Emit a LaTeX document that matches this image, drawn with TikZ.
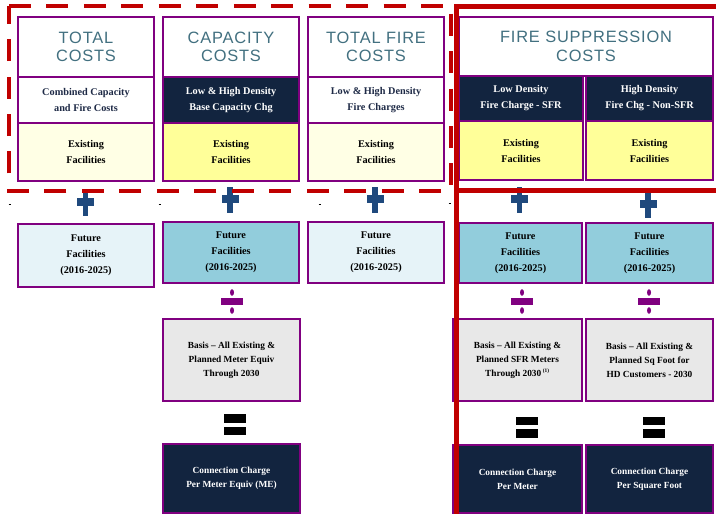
\documentclass[tikz,border=0pt]{standalone}
\usepackage{fontspec}
\setmainfont{Liberation Serif}
\newfontfamily\ttlfont[LetterSpace=5]{Liberation Sans}
\definecolor{bxpurple}{RGB}{128,0,128}
\definecolor{redline}{RGB}{192,0,0}
\definecolor{navy}{RGB}{18,36,63}
\definecolor{ttlcol}{RGB}{66,112,128}
\definecolor{midtext}{RGB}{30,42,70}
\definecolor{paleyellow}{RGB}{255,255,229}
\definecolor{yellowfill}{RGB}{255,255,153}
\definecolor{lightblue}{RGB}{230,243,248}
\definecolor{midblue}{RGB}{146,205,220}
\definecolor{grayfill}{RGB}{232,232,232}
\definecolor{plusblue}{RGB}{31,73,125}
\definecolor{divpurple}{RGB}{128,0,128}
\tikzset{
  sz/.style 2 args={minimum width=#1*0.75pt, minimum height=#2*0.75pt},
  box/.style={draw=bxpurple, line width=1.5pt, inner sep=0pt, align=center,
    font=\bfseries\fontsize{7.7}{12}\selectfont},
  ttl/.style={box, fill=white, text=ttlcol, font=\ttlfont\fontsize{12.3}{13.8}\selectfont},
  whitemid/.style={box, fill=white, text=midtext},
  darkmid/.style={box, fill=navy, text=white},
  paleexist/.style={box, fill=paleyellow, text=black},
  yellexist/.style={box, fill=yellowfill, text=black},
  futlight/.style={box, fill=lightblue, text=black},
  futmid/.style={box, fill=midblue, text=black},
  basisbox/.style={box, fill=grayfill, text=black, font=\bfseries\fontsize{7}{10.5}\selectfont},
  connbox/.style={box, fill=navy, text=white, font=\bfseries\fontsize{7}{10.5}\selectfont},
  redsolid/.style={draw=redline, line width=3.5pt},
  reddash/.style={draw=redline, line width=3pt, dash pattern=on 16.5pt off 11.6pt},
  plussign/.pic={
    \fill[plusblue] (-2.8,-13) rectangle (2.8,13);
    \fill[plusblue] (-8.5,-5) rectangle (8.5,3);
  },
  divsign/.pic={
    \fill[divpurple] (0,-9) ellipse [x radius=2, y radius=3.3];
    \fill[divpurple] (-11,-3.5) rectangle (11,3.5);
    \fill[divpurple] (0,9) ellipse [x radius=2, y radius=3.3];
  },
  eqsign/.pic={
    \fill[black] (-11,-10.5) rectangle (11,-2);
    \fill[black] (-11,2) rectangle (11,10.5);
  }
}
\begin{document}
\begin{tikzpicture}[x=0.75pt,y=-0.75pt]
\useasboundingbox (0,0) rectangle (716,514);

% Column 1
\node[ttl, sz={136}{60}] (t1) at (86,47) {TOTAL\\COSTS};
\node[whitemid, sz={136}{46}] (m1) at (86,100) {Combined Capacity\\and Fire Costs};
\node[paleexist, sz={136}{58}] (e1) at (86,152) {Existing\\Facilities};
% Column 2
\node[ttl, sz={136}{60}] (t2) at (231,47) {CAPACITY\\COSTS};
\node[darkmid, sz={136}{46}] (m2) at (231,100) {Low \& High Density\\Base Capacity Chg};
\node[yellexist, sz={136}{58}] (e2) at (231,152) {Existing\\Facilities};
% Column 3
\node[ttl, sz={136}{60}] (t3) at (376,47) {TOTAL FIRE\\COSTS};
\node[whitemid, sz={136}{46}] (m3) at (376,100) {Low \& High Density\\Fire Charges};
\node[paleexist, sz={136}{58}] (e3) at (376,152) {Existing\\Facilities};
% Column 4
\node[ttl, sz={254}{59}] (t4) at (586,46.5) {FIRE SUPPRESSION\\COSTS};
\node[darkmid, sz={124}{45}] (m4a) at (521,98.5) {Low Density\\Fire Charge - SFR};
\node[darkmid, sz={127}{45}] (m4b) at (649.5,98.5) {High Density\\Fire Chg - Non-SFR};
\node[yellexist, sz={124}{59}] (e4a) at (521,150.5) {Existing\\Facilities};
\node[yellexist, sz={127}{59}] (e4b) at (649.5,150.5) {Existing\\Facilities};

% Future facilities
\node[futlight, sz={136}{63}] (f1) at (86,255.5) {Future\\Facilities\\(2016-2025)};
\node[futmid, sz={136}{61}] (f2) at (231,252.5) {Future\\Facilities\\(2016-2025)};
\node[futlight, sz={136}{61}] (f3) at (376,252.5) {Future\\Facilities\\(2016-2025)};
\node[futmid, sz={123}{60}] (f4a) at (520.5,253) {Future\\Facilities\\(2016-2025)};
\node[futmid, sz={127}{60}] (f4b) at (649.5,253) {Future\\Facilities\\(2016-2025)};

% Basis
\node[basisbox, sz={137}{82}] (b2) at (231.5,360) {Basis -- All Existing \&\\Planned Meter Equiv\\Through 2030};
\node[basisbox, sz={129}{82}] (b4a) at (517.5,360) {Basis -- All Existing \&\\Planned SFR Meters\\Through 2030\,\textsuperscript{\fontsize{4}{4}\selectfont(1)}};
\node[basisbox, sz={127}{82}] (b4b) at (649.5,360) {Basis -- All Existing \&\\Planned Sq Foot for\\HD Customers - 2030};

% Connection charges
\node[connbox, sz={137}{69}] (c2) at (231.5,478.5) {Connection Charge\\Per Meter Equiv (ME)};
\node[connbox, sz={129}{68}] (c4a) at (517.5,479) {Connection Charge\\Per Meter};
\node[connbox, sz={127}{68}] (c4b) at (649.5,479) {Connection Charge\\Per Square Foot};

% Operators
\pic at (85.5,203) {plussign};
\pic at (230,200) {plussign};
\pic at (375,200) {plussign};
\pic at (519.5,200) {plussign};
\pic at (648,204.5) {plussign};
\pic at (232,301.5) {divsign};
\pic at (522,301.5) {divsign};
\pic at (649,301.5) {divsign};
\pic at (235,424.75) {eqsign};
\pic at (527,427) {eqsign};
\pic at (654,427) {eqsign};

% tiny marks
\foreach \xx/\yy in {9.5/204.5, 159.5/204.5, 319.5/204.5, 449.5/203.5}
  \draw[black, line width=0.6pt] (\xx-1,\yy) -- (\xx+1,\yy);

% Red frames
\draw[reddash] (9,6) -- (451,6) -- (451,191) -- (9,191) -- cycle;
\draw[redsolid] (716,6.5) -- (456.5,6.5) -- (456.5,514);
\draw[redsolid] (456.5,190.5) -- (716,190.5);
\end{tikzpicture}
\end{document}
